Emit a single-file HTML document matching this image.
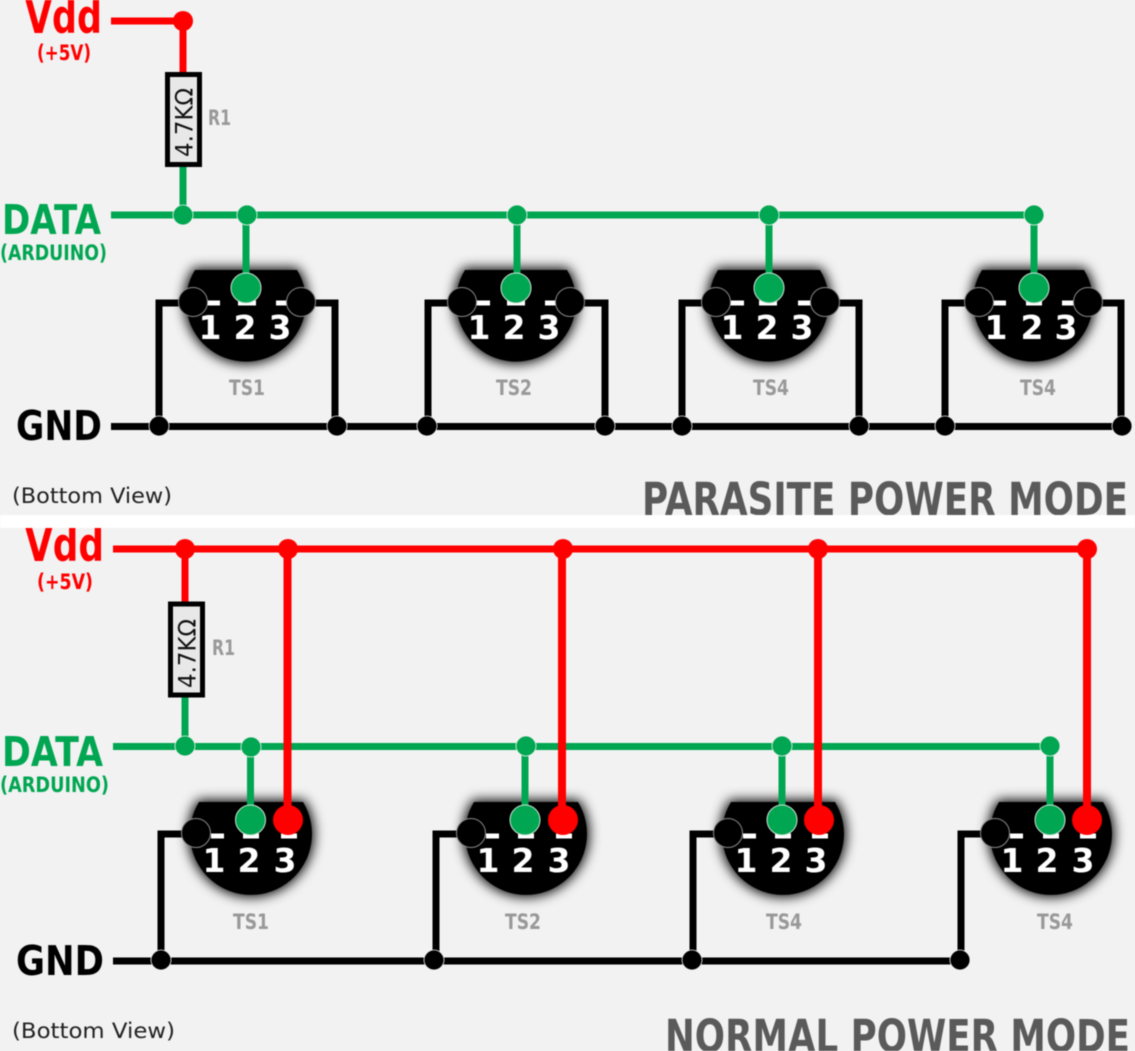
<!DOCTYPE html>
<html><head><meta charset="utf-8"><style>
html,body{margin:0;padding:0;background:#f2f2f2;overflow:hidden}
svg{display:block;filter:blur(0.45px)}
text{font-family:"DejaVu Sans","Liberation Sans",sans-serif}
.b{font-weight:bold}
.n{font-weight:bold;font-size:33px;fill:#fff;text-anchor:middle}
.ts{font-weight:bold;font-size:21px;fill:#999;text-anchor:middle}
.r{font-weight:bold;font-size:21px;fill:#999}
.w{fill:none;stroke-width:7}
.k{stroke:#000}.g{stroke:#00a651}.d{stroke:#f00}
.body{fill:#000}
.sh{fill:#000;stroke:#000;stroke-width:4;filter:url(#s)}
.tick{stroke:#fff;stroke-width:5}
.p{stroke:#8a8a8a;stroke-width:1;fill:#000}
.pg{stroke:#cfe3d6;stroke-width:1;fill:#00a651}
.jg{fill:#00a651;stroke:#f2f2f2;stroke-width:.8}
.jd{fill:#f00}
.jk{fill:#000;stroke:#f2f2f2;stroke-width:.8}
</style></head><body>
<svg width="1135" height="1051" viewBox="0 0 1135 1051" xmlns="http://www.w3.org/2000/svg">
<defs><filter id="s" x="-30%" y="-30%" width="160%" height="160%"><feGaussianBlur stdDeviation="6"/></filter></defs>
<rect width="1135" height="1051" fill="#f2f2f2"/>

<!-- TOP: bodies -->
<path class="sh" d="M195 270H297A60 60 0 1 1 195 270Z"/>
<path class="sh" d="M465 270H567A60 60 0 1 1 465 270Z"/>
<path class="sh" d="M718 270H820A60 60 0 1 1 718 270Z"/>
<path class="sh" d="M982 270H1084A60 60 0 1 1 982 270Z"/>
<path class="body" d="M195 270H297A60 60 0 1 1 195 270Z"/>
<path class="body" d="M465 270H567A60 60 0 1 1 465 270Z"/>
<path class="body" d="M718 270H820A60 60 0 1 1 718 270Z"/>
<path class="body" d="M982 270H1084A60 60 0 1 1 982 270Z"/>

<g class="tick">
<path d="M207 303H220M238 303H256M276 303H288"/>
<path d="M476 303H490M507 303H525M545 303H557"/>
<path d="M730 303H744M759 303H777M798 303H811"/>
<path d="M993 303H1006M1026 303H1042M1062 303H1074"/>
</g>
<g class="n">
<text x="210" y="339">1</text><text x="245" y="339">2</text><text x="280" y="339">3</text>
<text x="479" y="339">1</text><text x="514" y="339">2</text><text x="549" y="339">3</text>
<text x="732" y="339">1</text><text x="767" y="339">2</text><text x="802" y="339">3</text>
<text x="996" y="339">1</text><text x="1032" y="339">2</text><text x="1066" y="339">3</text>
</g>

<!-- TOP: wires -->
<path class="w d" d="M111 21H183V75"/>
<path class="w g" d="M183 165V215M111 215H1035M246 215V288M517 215V288M769 215V288M1034 215V288"/>
<path class="w k" d="M111 426.5H1125M193 303H159V426M301 303H335V426M462 303H428V426M570 303H605V426M716 303H682V426M825 303H859V426M980 303H945V426M1087 303H1121V426"/>
<circle cx="183" cy="21" r="10" fill="#f00"/>
<g class="jg"><circle cx="183" cy="215" r="10"/><circle cx="247" cy="215" r="10"/><circle cx="517" cy="215" r="10"/><circle cx="769" cy="215" r="10"/><circle cx="1034" cy="215" r="10"/></g>
<g class="jk"><circle cx="159" cy="426" r="10"/><circle cx="337" cy="426" r="10"/><circle cx="427" cy="426" r="10"/><circle cx="605" cy="426" r="10"/><circle cx="682" cy="426" r="10"/><circle cx="859" cy="426" r="10"/><circle cx="945" cy="426" r="10"/><circle cx="1122" cy="426" r="10"/></g>
<g class="p"><circle cx="193" cy="302" r="14.5"/><circle cx="301" cy="302" r="14.5"/><circle cx="462" cy="302" r="14.5"/><circle cx="570" cy="302" r="14.5"/><circle cx="716" cy="302" r="14.5"/><circle cx="825" cy="302" r="14.5"/><circle cx="979" cy="302" r="14.5"/><circle cx="1088" cy="302" r="14.5"/></g>
<g class="pg"><circle cx="246" cy="288" r="15"/><circle cx="516" cy="288" r="15"/><circle cx="769" cy="288" r="15"/><circle cx="1034" cy="288" r="15"/></g>

<rect x="167.5" y="74.5" width="32" height="90" fill="#e8e8e8" stroke="#000" stroke-width="5"/>
<text transform="translate(192.5,157) rotate(-90)" font-size="24" textLength="69" lengthAdjust="spacingAndGlyphs" fill="#111">4.7KΩ</text>
<text class="r" x="208" y="125" textLength="23" lengthAdjust="spacingAndGlyphs">R1</text>
<g class="ts"><text x="247" y="395" textLength="36" lengthAdjust="spacingAndGlyphs">TS1</text><text x="514" y="395" textLength="36" lengthAdjust="spacingAndGlyphs">TS2</text><text x="771" y="395" textLength="36" lengthAdjust="spacingAndGlyphs">TS4</text><text x="1038" y="395" textLength="36" lengthAdjust="spacingAndGlyphs">TS4</text></g>

<text class="b" x="25" y="33" font-size="46" fill="#f00" textLength="77" lengthAdjust="spacingAndGlyphs">Vdd</text>
<text class="b" x="37" y="60" font-size="21" fill="#f00" textLength="54" lengthAdjust="spacingAndGlyphs">(+5V)</text>
<text class="b" x="2" y="234" font-size="41" fill="#00a651" textLength="99" lengthAdjust="spacingAndGlyphs">DATA</text>
<text class="b" x="0" y="260" font-size="21" fill="#00a651" textLength="107" lengthAdjust="spacingAndGlyphs">(ARDUINO)</text>
<text class="b" x="16" y="440" font-size="41" fill="#000" textLength="86" lengthAdjust="spacingAndGlyphs">GND</text>
<text x="12" y="503" font-size="21" fill="#222" textLength="160" lengthAdjust="spacingAndGlyphs">(Bottom View)</text>
<text class="b" x="642" y="515" font-size="45" fill="#5a5a5a" textLength="486" lengthAdjust="spacingAndGlyphs">PARASITE POWER MODE</text>

<!-- BOTTOM: bodies -->
<path class="sh" d="M199 802H303A61 61 0 1 1 199 802Z"/>
<path class="sh" d="M474 802H578A61 61 0 1 1 474 802Z"/>
<path class="sh" d="M731 802H835A61 61 0 1 1 731 802Z"/>
<path class="sh" d="M999 802H1103A61 61 0 1 1 999 802Z"/>
<path class="body" d="M199 802H303A61 61 0 1 1 199 802Z"/>
<path class="body" d="M474 802H578A61 61 0 1 1 474 802Z"/>
<path class="body" d="M731 802H835A61 61 0 1 1 731 802Z"/>
<path class="body" d="M999 802H1103A61 61 0 1 1 999 802Z"/>

<g class="tick">
<path d="M211 836H224M243 836H259M281 836H297"/>
<path d="M486 836H499M518 836H534M556 836H572"/>
<path d="M743 836H756M775 836H791M812 836H828"/>
<path d="M1010 836H1023M1043 836H1059M1080 836H1096"/>
</g>
<g class="n">
<text x="214" y="872">1</text><text x="249" y="872">2</text><text x="285" y="872">3</text>
<text x="488" y="872">1</text><text x="523" y="872">2</text><text x="559" y="872">3</text>
<text x="746" y="872">1</text><text x="781" y="872">2</text><text x="816" y="872">3</text>
<text x="1012" y="872">1</text><text x="1047" y="872">2</text><text x="1083" y="872">3</text>
</g>

<!-- BOTTOM: wires -->
<path class="w g" d="M185 695V746M113 746.5H1050M250.5 746V820M525 746V820M782 746V820M1050 746V820"/>
<path class="w d" d="M113 549H1087M185 549V604"/>
<path class="d" fill="none" stroke-width="8" d="M287.5 549V820M562 549V820M818 549V820M1087 549V820"/>
<path class="w k" d="M113 961H960M196 834H161V961M471 834H436V961M728 834H693V961M995 834H961V961"/>
<g class="jd"><circle cx="185" cy="549" r="10"/><circle cx="288" cy="549" r="10"/><circle cx="563" cy="549" r="10"/><circle cx="818" cy="549" r="10"/><circle cx="1087" cy="549" r="10"/></g>
<g class="jg"><circle cx="185" cy="746" r="10"/><circle cx="251" cy="747" r="10"/><circle cx="526" cy="746" r="10"/><circle cx="782" cy="746" r="10"/><circle cx="1050" cy="746" r="10"/></g>
<g class="jk"><circle cx="161" cy="960" r="10"/><circle cx="434" cy="960" r="10"/><circle cx="692" cy="960" r="10"/><circle cx="960" cy="960" r="10"/></g>
<g class="p"><circle cx="196" cy="833" r="14.5"/><circle cx="471" cy="833" r="14.5"/><circle cx="728" cy="833" r="14.5"/><circle cx="995" cy="833" r="14.5"/></g>
<g class="pg"><circle cx="250.5" cy="820" r="15"/><circle cx="525" cy="820" r="15"/><circle cx="782" cy="820" r="15"/><circle cx="1050" cy="820" r="15"/></g>
<g fill="#f00"><circle cx="288" cy="820" r="15"/><circle cx="563" cy="820" r="15"/><circle cx="819" cy="820" r="15"/><circle cx="1087" cy="820" r="15"/></g>

<rect x="170.5" y="604" width="32" height="91" fill="#e8e8e8" stroke="#000" stroke-width="5"/>
<text transform="translate(195.5,688) rotate(-90)" font-size="24" textLength="69" lengthAdjust="spacingAndGlyphs" fill="#111">4.7KΩ</text>
<text class="r" x="212" y="655" textLength="23" lengthAdjust="spacingAndGlyphs">R1</text>
<g class="ts"><text x="251" y="929" textLength="36" lengthAdjust="spacingAndGlyphs">TS1</text><text x="523" y="929" textLength="36" lengthAdjust="spacingAndGlyphs">TS2</text><text x="784" y="929" textLength="36" lengthAdjust="spacingAndGlyphs">TS4</text><text x="1055" y="929" textLength="36" lengthAdjust="spacingAndGlyphs">TS4</text></g>

<text class="b" x="25" y="561" font-size="46" fill="#f00" textLength="79" lengthAdjust="spacingAndGlyphs">Vdd</text>
<text class="b" x="37" y="589" font-size="21" fill="#f00" textLength="56" lengthAdjust="spacingAndGlyphs">(+5V)</text>
<text class="b" x="2" y="766" font-size="41" fill="#00a651" textLength="101" lengthAdjust="spacingAndGlyphs">DATA</text>
<text class="b" x="0" y="792" font-size="21" fill="#00a651" textLength="109" lengthAdjust="spacingAndGlyphs">(ARDUINO)</text>
<text class="b" x="16" y="975" font-size="41" fill="#000" textLength="88" lengthAdjust="spacingAndGlyphs">GND</text>
<text x="12" y="1038" font-size="21" fill="#222" textLength="163" lengthAdjust="spacingAndGlyphs">(Bottom View)</text>
<text class="b" x="665" y="1052" font-size="45" fill="#5a5a5a" textLength="465" lengthAdjust="spacingAndGlyphs">NORMAL POWER MODE</text>

<rect y="515" width="1135" height="13" fill="#fff"/>
</svg>
</body></html>
